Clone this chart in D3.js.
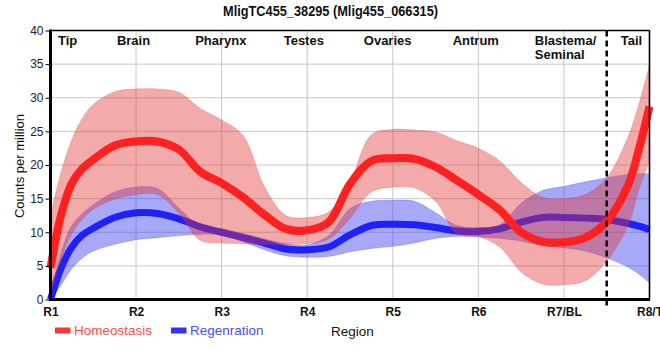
<!DOCTYPE html>
<html>
<head>
<meta charset="utf-8">
<script src="https://cdn.jsdelivr.net/npm/d3@7"></script>
<style>
  html, body { margin: 0; padding: 0; background: #fff; }
  svg { display: block; font-family: "Liberation Sans", Arial, sans-serif; }
</style>
</head>
<body>
<svg id="chart" width="660" height="360"></svg>
<script>
// ---------- data ----------
const title = "MligTC455_38295 (Mlig455_066315)";
const regions = ["R1", "R2", "R3", "R4", "R5", "R6", "R7/BL", "R8/T"];
const bodyParts = ["Tip", "Brain", "Pharynx", "Testes", "Ovaries", "Antrum", "Blastema/|Seminal", "Tail"];
const yTicks = [0, 5, 10, 15, 20, 25, 30, 35, 40];
const seriesNames = ["Homeostasis", "Regenration"];
// sample positions along the region axis (0 = R1 ... 7 = R8/T)
const pos = [0, 0.125, 0.25, 0.375, 0.5, 0.75, 1, 1.25, 1.5, 1.75, 2, 2.25, 2.5, 2.75, 3, 3.25, 3.5, 3.75,
             4, 4.25, 4.5, 4.75, 5, 5.25, 5.5, 5.75, 6, 6.25, 6.5, 6.75, 6.875, 7];
const homeoMean  = [4.7, 12.6, 17.3, 19.5, 20.8, 22.9, 23.5, 23.5, 22.3, 19.0, 17.3, 15.2, 12.6, 10.5, 10.3, 11.5, 17.2, 20.6,
                    21.0, 20.9, 19.7, 17.7, 15.6, 13.3, 10.0, 8.6, 8.5, 9.2, 11.6, 17.0, 22.3, 28.7];
const homeoUpper = [12.5, 19.0, 23.8, 27.0, 29.0, 30.9, 31.3, 31.3, 30.8, 28.4, 26.7, 24.4, 16.8, 12.5, 12.2, 13.0, 17.5, 24.5,
                    25.3, 25.2, 24.9, 23.6, 22.5, 20.6, 17.4, 15.2, 15.0, 15.6, 18.1, 24.2, 29.0, 34.9];
const homeoLower = [0.8, 6.0, 9.8, 12.0, 13.4, 14.9, 15.6, 15.6, 12.8, 8.8, 8.4, 8.3, 8.2, 8.2, 8.3, 9.0, 12.1, 16.0,
                    16.7, 16.6, 14.6, 9.8, 9.4, 7.8, 4.1, 2.3, 2.2, 2.8, 5.7, 11.0, 16.3, 20.5];
const regenMean  = [0, 4.7, 7.8, 9.6, 10.6, 12.2, 12.9, 12.8, 12.0, 10.8, 10.0, 9.2, 8.4, 7.5, 7.4, 7.8, 9.6, 11.0,
                    11.2, 11.1, 10.7, 10.2, 10.1, 10.5, 11.5, 12.2, 12.2, 12.1, 11.9, 11.3, 10.9, 10.4];
const regenUpper = [0.5, 7.0, 11.0, 12.8, 14.1, 16.0, 16.7, 16.5, 13.6, 10.9, 10.5, 9.8, 9.0, 8.3, 8.1, 9.5, 13.5, 14.6,
                    14.75, 14.6, 12.9, 11.0, 10.7, 11.1, 14.3, 16.2, 16.8, 17.5, 18.1, 18.6, 18.7, 18.7];
const regenLower = [0, 2.2, 4.6, 6.2, 7.2, 8.2, 8.9, 9.2, 9.5, 9.7, 9.6, 8.6, 7.4, 6.5, 6.3, 6.4, 7.1, 7.6,
                    7.9, 8.4, 9.1, 9.4, 9.3, 9.1, 8.7, 8.0, 7.7, 7.2, 6.2, 4.8, 3.8, 2.5];
const dividerAt = 6.5; // boundary between R7/BL and R8/T

// ---------- layout ----------
const pL = 50.5, pR = 649.5, pT = 30.5, pB = 299.5;
const svg = d3.select("#chart");

const x = d3.scaleLinear().domain([0, regions.length - 1]).range([pL, pR]);
const y = d3.scaleLinear().domain([0, 40]).range([pB, pT]);

const RED = "#ff2020", BLUE = "#2020ff";

// grid
const grid = svg.append("g");
grid.selectAll("line.h").data(yTicks.filter(t => t > 0 && t < 40)).join("line")
  .attr("class", "h")
  .attr("x1", pL).attr("x2", pR).attr("y1", d => y(d)).attr("y2", d => y(d))
  .attr("stroke", "#c8c8c8").attr("stroke-width", 1);
grid.selectAll("line.v").data(d3.range(1, regions.length - 1)).join("line")
  .attr("class", "v")
  .attr("x1", d => x(d)).attr("x2", d => x(d)).attr("y1", pT).attr("y2", pB)
  .attr("stroke", "#c8c8c8").attr("stroke-width", 1);

const curve = d3.curveCatmullRom.alpha(0.5);
const band = (lo, hi) => d3.area().curve(curve)
  .x((d, i) => x(pos[i])).y0((d, i) => y(lo[i])).y1((d, i) => y(hi[i]))(pos);
const line = (vals) => d3.line().curve(curve)
  .x((d, i) => x(pos[i])).y((d, i) => y(vals[i]))(pos);

// regeneration (drawn first)
svg.append("path").attr("d", band(regenLower, regenUpper))
  .attr("fill", "#3a3af0").attr("fill-opacity", 0.44)
  .attr("stroke", "#3a3af0").attr("stroke-opacity", 0.35).attr("stroke-width", 0.8);
svg.append("path").attr("d", line(regenMean))
  .attr("fill", "none").attr("stroke", BLUE).attr("stroke-width", 7);

// homeostasis
svg.append("path").attr("d", band(homeoLower, homeoUpper))
  .attr("fill", "#e03535").attr("fill-opacity", 0.42)
  .attr("stroke", "#e03535").attr("stroke-opacity", 0.3).attr("stroke-width", 0.8);
svg.append("path").attr("d", line(homeoMean))
  .attr("fill", "none").attr("stroke", RED).attr("stroke-width", 8);

// divider
svg.append("line")
  .attr("x1", x(dividerAt)).attr("x2", x(dividerAt)).attr("y1", pT).attr("y2", pB + 6)
  .attr("stroke", "#000").attr("stroke-width", 2.5).attr("stroke-dasharray", "6,4");

// frame
svg.append("line").attr("x1", pL).attr("x2", pR).attr("y1", pT).attr("y2", pT)
  .attr("stroke", "#000").attr("stroke-width", 1.6);
svg.append("line").attr("x1", pR).attr("x2", pR).attr("y1", pT).attr("y2", pB)
  .attr("stroke", "#000").attr("stroke-width", 1.6);

// y axis
const yAxis = svg.append("g").attr("transform", `translate(${pL},0)`)
  .call(d3.axisLeft(y).tickValues(yTicks).tickSize(5).tickPadding(2).tickFormat(d3.format("d")));
yAxis.select(".domain").attr("stroke-width", 3).attr("d", `M0,${pT - 1}V${pB + 1.5}`);
yAxis.selectAll(".tick line").attr("stroke-width", 1);
yAxis.selectAll("text").attr("font-size", 12).attr("fill", "#222")
  .attr("font-family", "Liberation Sans, Arial, sans-serif");

// x axis
const xAxis = svg.append("g").attr("transform", `translate(0,${pB})`)
  .call(d3.axisBottom(x).tickValues(d3.range(regions.length)).tickSize(0).tickPadding(8)
    .tickFormat(i => regions[i]));
xAxis.select(".domain").attr("stroke-width", 3).attr("d", `M${pL - 1.5},0H${pR + 0.5}`);
xAxis.selectAll("text").attr("font-size", 12).attr("font-weight", "bold").attr("fill", "#111")
  .attr("font-family", "Liberation Sans, Arial, sans-serif");

// region headers
const headerPos = [0.2, 0.97, 1.99, 2.96, 3.94, 4.97, 5.66, 6.79];
const headerAnchor = ["middle", "middle", "middle", "middle", "middle", "middle", "start", "middle"];
bodyParts.forEach((name, i) => {
  const t = svg.append("text")
    .attr("x", x(headerPos[i])).attr("y", 44.5)
    .attr("text-anchor", headerAnchor[i])
    .attr("font-size", 13).attr("font-weight", "bold").attr("fill", "#111");
  name.split("|").forEach((part, j) => {
    t.append("tspan").attr("x", x(headerPos[i])).attr("dy", j === 0 ? 0 : 14.5).text(part);
  });
});

// title
svg.append("text").attr("x", 330.5).attr("y", 15.5).attr("text-anchor", "middle")
  .attr("font-size", 14).attr("font-weight", "bold").attr("fill", "#111")
  .attr("textLength", 215).attr("lengthAdjust", "spacingAndGlyphs").text(title);

// y label
svg.append("text").attr("transform", "translate(24,166) rotate(-90)")
  .attr("text-anchor", "middle").attr("font-size", 13).attr("fill", "#111")
  .text("Counts per million");

// x label
svg.append("text").attr("x", 331).attr("y", 335.5).attr("font-size", 13.5).attr("fill", "#111")
  .text("Region");

// legend
const legendX = [55, 171];
const legendFill = ["#ff3333", "#3333ff"];
const legendText = ["#ff4a4a", "#4a4aff"];
seriesNames.forEach((s, i) => {
  svg.append("rect").attr("x", legendX[i]).attr("y", 327.5).attr("width", 15.5).attr("height", 6)
    .attr("fill", legendFill[i]);
  svg.append("text").attr("x", legendX[i] + 19).attr("y", 335.3)
    .attr("font-size", 13.5).attr("fill", legendText[i]).text(s);
});
</script>
</body>
</html>
